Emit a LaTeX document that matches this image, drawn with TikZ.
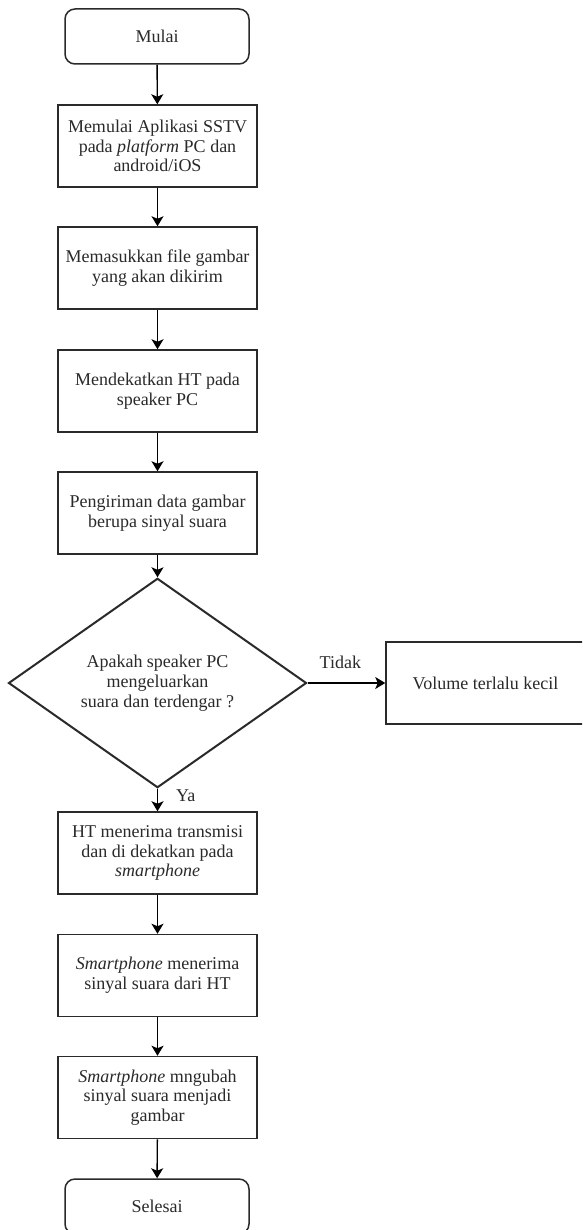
\documentclass[tikz,border=0pt]{standalone}
\usepackage{fontspec}
\setmainfont{Liberation Serif}
\usetikzlibrary{shapes.geometric,arrows.meta}
\definecolor{ink}{HTML}{2A2A2A}
\tikzset{
  base/.style={draw=ink, line width=1.5pt, text=ink, align=center, font=\fontsize{18}{19.8}\selectfont, inner sep=0pt},
  proc/.style={base, rectangle, minimum width=199pt, minimum height=82pt},
  term/.style={base, rectangle, rounded corners=10pt, minimum width=184pt, minimum height=55pt},
  decide/.style={base, diamond, line width=2pt, minimum width=298pt, minimum height=176pt},
  flow/.style={draw=black, line width=1.4pt, -{Stealth[length=10pt,width=12pt,inset=2.5pt]}},
  lbl/.style={text=ink, font=\fontsize{18}{19.8}\selectfont, inner sep=0pt}
}
\begin{document}
\begin{tikzpicture}[x=1pt,y=-1pt]
\useasboundingbox (0,0) rectangle (582,1230);
\clip (0,0) rectangle (582,1230);
\fill[white] (0,0) rectangle (582,1230);

\node[term] (start) at (157,36.5) {Mulai};
\node[proc] (b2) at (157.5,146) {Memulai Aplikasi SSTV\\pada \textit{platform} PC dan\\android/iOS};
\node[proc] (b3) at (157.5,268) {Memasukkan file gambar\\yang akan dikirim};
\node[proc] (b4) at (157.5,391) {Mendekatkan HT pada\\speaker PC};
\node[proc] (b5) at (157.5,513) {Pengiriman data gambar\\berupa sinyal suara};
\node[decide] (d) at (157.5,683) {Apakah speaker PC\\mengeluarkan\\suara dan terdengar ?};
\node[proc] (vol) at (485.5,683) {Volume terlalu kecil};
\node[proc] (ht) at (157.5,853) {HT menerima transmisi\\dan di dekatkan pada\\\textit{smartphone}};
\node[proc] (s1) at (157.5,975.5) {\textit{Smartphone} menerima\\sinyal suara dari HT};
\node[proc] (s2) at (157.5,1097.5) {\textit{Smartphone} mngubah\\sinyal suara menjadi\\gambar};
\node[term] (end) at (157,1206.5) {Selesai};

\draw[flow] (start) -- (b2);
\draw[flow] (b2) -- (b3);
\draw[flow] (b3) -- (b4);
\draw[flow] (b4) -- (b5);
\draw[flow] (b5) -- (d);
\draw[flow] (d.east) -- node[lbl, above=14pt, xshift=-6pt] (tidak) {Tidak} (vol.west);
\draw[flow] (d.south) -- node[lbl, right=18pt, yshift=4pt] (ya) {Ya} (ht.north);
\draw[flow] (ht) -- (s1);
\draw[flow] (s1) -- (s2);
\draw[flow] (s2) -- (end);
\end{tikzpicture}
\end{document}
